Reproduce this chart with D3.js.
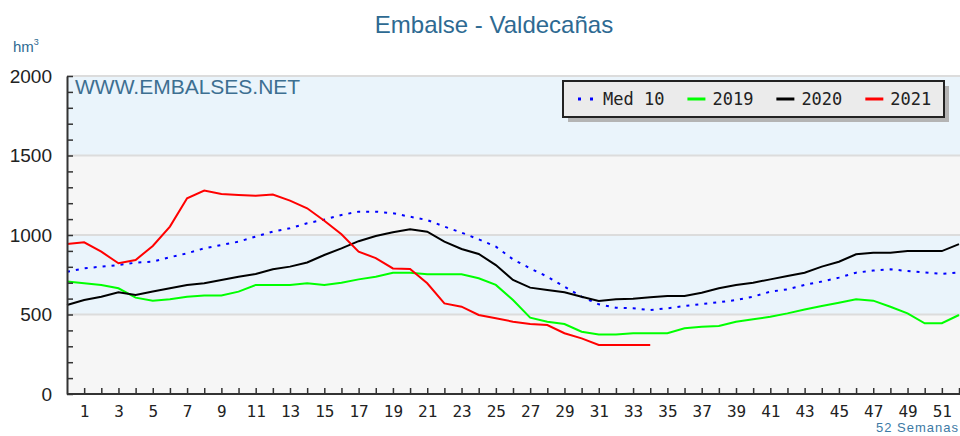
<!DOCTYPE html>
<html>
<head>
	<title> embalse chart </title>
	<script src="https://d3js.org/d3.v7.min.js"></script>
	<style>
		body { margin: 0; background: white; }
	</style>
</head>

<body>
	<div id="vis">
		<svg> </svg>
	</div>

	<script type="text/javascript">

		// weekly reservoir volume (hm3), week 0 .. 52
		var weeks = d3.range(0, 53);
		var med10 = [769, 790, 801, 811, 826, 832, 860, 885, 916, 937, 958, 990, 1021, 1042, 1074, 1097, 1126, 1147, 1147, 1137, 1115, 1094, 1053, 1015, 973, 927, 847, 790, 738, 675, 612, 564, 543, 539, 528, 539, 553, 566, 577, 591, 612, 644, 658, 686, 707, 732, 763, 776, 784, 774, 765, 755, 765];
		var y2019 = [707, 696, 686, 665, 606, 587, 596, 612, 619, 619, 644, 686, 686, 686, 696, 686, 700, 721, 738, 763, 763, 753, 753, 753, 728, 686, 591, 480, 455, 440, 392, 375, 375, 382, 382, 382, 413, 423, 428, 455, 470, 486, 507, 532, 553, 574, 596, 587, 549, 507, 445, 445, 497];
		var y2020 = [560, 591, 612, 640, 623, 644, 665, 686, 696, 717, 738, 755, 784, 801, 827, 874, 916, 961, 994, 1017, 1036, 1021, 958, 912, 881, 811, 717, 669, 654, 640, 612, 585, 596, 599, 608, 616, 616, 637, 665, 686, 700, 721, 742, 763, 801, 832, 879, 889, 889, 899, 899, 899, 943];
		var y2021 = [943, 954, 895, 822, 843, 931, 1053, 1231, 1279, 1258, 1252, 1247, 1255, 1216, 1168, 1090, 1005, 895, 855, 790, 786, 696, 570, 549, 497, 476, 455, 440, 434, 382, 350, 308, 308, 308, 308];

		var seriesNames = ["Med 10", "2019", "2020", "2021"];
		var seriesValues = [med10, y2019, y2020, y2021];
		var seriesColors = ["#0000ff", "#00ff00", "#000000", "#ff0000"];

		var yBands = [0, 500, 1000, 1500, 2000];
		var xLabels = d3.range(1, 52, 2);

		var w = 960;
		var h = 436;

		const left_border = 67;
		const right_edge = 959;
		const top_border = 76;
		const bottom_line = 394;

		const svg = d3.select("svg").attr("width", w).attr("height", h);

		let x_scale = d3.scaleLinear().domain([0, 52]).range([left_border, right_edge]);
		let y_scale = d3.scaleLinear().domain([0, 2000]).range([bottom_line, top_border]);

		// alternating bands
		svg.append("g").selectAll("rect").data(d3.pairs(yBands)).join("rect")
			.attr("x", x_scale(0))
			.attr("width", w - x_scale(0))
			.attr("y", d => y_scale(d[1]))
			.attr("height", d => y_scale(d[0]) - y_scale(d[1]))
			.style("fill", (d, i) => i % 2 == 0 ? "#f6f6f6" : "#eaf4fb");

		// grid lines
		svg.append("g").selectAll("line").data(yBands.slice(1)).join("line")
			.attr("x1", x_scale(0)).attr("x2", w)
			.attr("y1", d => y_scale(d)).attr("y2", d => y_scale(d))
			.style("stroke", "#dcdcdc").style("stroke-width", 2);

		// watermark
		svg.append("text").attr("x", 75).attr("y", 94)
			.style("font-family", "Liberation Sans, Arial, sans-serif").style("font-size", "21px")
			.style("fill", "#3d6f91").text("WWW.EMBALSES.NET");

		// series lines
		var line = d3.line().x((d, i) => x_scale(weeks[i])).y(d => y_scale(d));
		svg.append("g").selectAll("path").data(seriesValues).join("path")
			.attr("d", d => line(d))
			.style("fill", "none")
			.style("stroke", (d, i) => seriesColors[i])
			.style("stroke-width", 2)
			.style("stroke-dasharray", (d, i) => i == 0 ? "3,6" : null);

		// y axis: labels outside, minor ticks inside
		var yLab = svg.append("g").attr("transform", "translate(" + left_border + ",0)")
			.call(d3.axisLeft(y_scale).tickValues(yBands).tickFormat(d3.format("d")).tickSize(0).tickPadding(15));
		yLab.select(".domain").remove();
		yLab.selectAll("text").style("font-family", "Liberation Sans, Arial, sans-serif").style("font-size", "19px").style("fill", "#222");

		var yTick = svg.append("g").attr("transform", "translate(" + left_border + ",0)")
			.call(d3.axisRight(y_scale).tickValues(d3.range(0, 2001, 100)).tickSize(6).tickFormat("").tickSizeOuter(0));
		yTick.select(".domain").style("stroke", "#333").style("stroke-width", 2);
		yTick.selectAll("line").style("stroke", "#333").style("stroke-width", 1.5);

		// x axis: ticks pointing up, labels below
		var xTick = svg.append("g").attr("transform", "translate(0," + bottom_line + ")")
			.call(d3.axisTop(x_scale).tickValues(d3.range(1, 53)).tickSize(6).tickFormat("").tickSizeOuter(0));
		xTick.select(".domain").attr("d", "M" + left_border + ",0H" + w).style("stroke", "#333").style("stroke-width", 2);
		xTick.selectAll("line").style("stroke", "#333").style("stroke-width", 1.5);

		var xLab = svg.append("g").attr("transform", "translate(0," + bottom_line + ")")
			.call(d3.axisBottom(x_scale).tickValues(xLabels).tickSize(0).tickPadding(12));
		xLab.select(".domain").remove();
		xLab.selectAll("text").style("font-family", "DejaVu Sans Mono, monospace").style("font-size", "16px").style("fill", "#222");

		// title and unit labels
		svg.append("text").attr("x", 494).attr("y", 33).attr("text-anchor", "middle")
			.style("font-family", "Liberation Sans, Arial, sans-serif").style("font-size", "24px")
			.style("fill", "#2e6a92").text("Embalse - Valdecañas");

		var unit = svg.append("text").attr("x", 13).attr("y", 52)
			.style("font-family", "Liberation Sans, Arial, sans-serif").style("font-size", "15px")
			.style("fill", "#2e6a92");
		unit.append("tspan").text("hm");
		unit.append("tspan").attr("dy", -7).style("font-size", "9px").text("3");

		svg.append("text").attr("x", 959).attr("y", 432).attr("text-anchor", "end")
			.style("font-family", "Liberation Sans, Arial, sans-serif").style("font-size", "13px")
			.style("letter-spacing", "1px")
			.style("fill", "#3d7aa5").text("52 Semanas");

		// legend
		var lx = 563, ly = 81, lw = 381, lh = 36;
		svg.append("rect").attr("x", lx + 5).attr("y", ly + 5).attr("width", lw).attr("height", lh).style("fill", "#b4b4b4");
		svg.append("rect").attr("x", lx).attr("y", ly).attr("width", lw).attr("height", lh)
			.style("fill", "#ebebeb").style("stroke", "#222").style("stroke-width", 2);

		var cursor = 578;
		seriesNames.forEach(function(name, i) {
			svg.append("line").attr("x1", cursor).attr("x2", cursor + 18)
				.attr("y1", ly + 18).attr("y2", ly + 18)
				.style("stroke", seriesColors[i]).style("stroke-width", 3)
				.style("stroke-dasharray", i == 0 ? "3,9" : null);
			var t = svg.append("text").attr("x", cursor + 25).attr("y", ly + 24)
				.style("font-family", "DejaVu Sans Mono, monospace").style("font-size", "17px")
				.style("fill", "#222").text(name);
			cursor = cursor + 25 + t.node().getComputedTextLength() + 23;
		});

	</script>
</body>
</html>
